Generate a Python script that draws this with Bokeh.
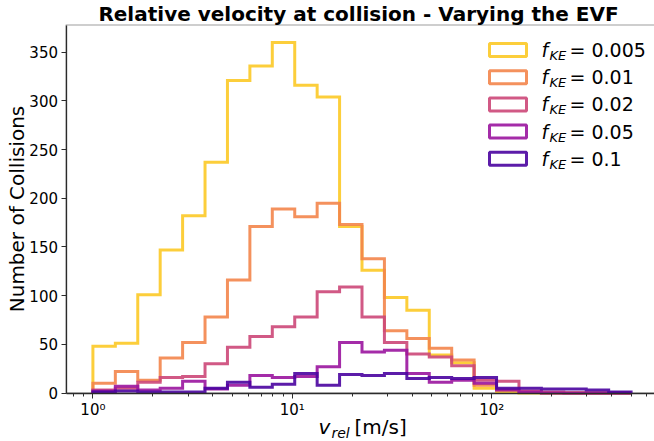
import numpy as np
from bokeh.plotting import figure
from bokeh.models import Range1d, FixedTicker, CustomJSTickFormatter, Label, BoxAnnotation
from bokeh.embed import file_html
from bokeh.resources import INLINE

# Log-spaced velocity bins [m/s]
bin_min, bin_max, n_bins = 1.0, 500.0, 24
edges = np.logspace(np.log10(bin_min), np.log10(bin_max), n_bins + 1)

# Collision counts per bin for each kinetic-energy fraction f_KE
f_ke = ["0.005", "0.01", "0.02", "0.05", "0.1"]
counts_0005 = [48, 51, 101, 147, 182, 237, 321, 336, 360, 316, 304, 171,
               126, 98, 85, 39, 31, 5, 1, 0, 0, 0, 0, 0]
counts_001 = [10, 22, 13, 36, 52, 78, 116, 171, 189, 181, 195, 173,
              138, 64, 56, 46, 34, 8, 3, 1, 0, 0, 0, 0]
counts_002 = [3, 5, 11, 16, 17, 30, 47, 58, 68, 78, 104, 109,
              78, 52, 40, 37, 28, 13, 12, 2, 1, 0, 0, 0]
counts_005 = [2, 7, 3, 5, 12, 4, 8, 18, 16, 17, 27, 52,
              42, 44, 20, 11, 13, 10, 3, 1, 0, 0, 0, 0]
counts_01 = [1, 2, 1, 1, 1, 5, 11, 6, 9, 20, 8, 19,
             18, 20, 15, 16, 15, 16, 5, 5, 4, 4, 3, 1]
series = [counts_0005, counts_001, counts_002, counts_005, counts_01]
colors = ["#fcc926", "#f3854b", "#cc4778", "#9a159f", "#4a03a0"]

x_ticks = [1, 10, 100]
y_ticks = [0, 50, 100, 150, 200, 250, 300, 350]

# Canvas size and the plotting box inside it (pixels from top-left)
W, H = 654, 441
BOX_L, BOX_T, BOX_B = 65.5, 24.5, 392.5
px_per_decade = 199.4

# Axis limits of the plotting box: 5 % log margin each side, counts from 0
log_lo = np.log10(bin_min) - 0.05 * np.log10(bin_max / bin_min)
y_top = max(max(s) for s in series) * 1.05
px_per_count = (BOX_B - BOX_T) / y_top

# The frame fills the whole canvas; axes are pinned to the box edges
x_start = log_lo - BOX_L / px_per_decade
x_end = log_lo + (W - BOX_L) / px_per_decade
y_start = -(H - BOX_B) / px_per_count
y_end = y_top + BOX_T / px_per_count

x_minor = [m * 10.0 ** k for k in (-1, 0, 1, 2) for m in range(2, 10)
           if log_lo <= np.log10(m * 10.0 ** k) <= x_end]

p = figure(width=W, height=H, x_axis_type="log",
           x_range=Range1d(10 ** x_start, 10 ** x_end),
           y_range=Range1d(y_start, y_end),
           output_backend="svg", toolbar_location=None, min_border=0)
p.title.visible = False
p.outline_line_color = None
p.grid.visible = False
p.background_fill_color = "white"
p.border_fill_color = "white"

spine = "#2b2b2b"

# spines of the plotting box (its right side lies past the canvas edge)
p.add_layout(BoxAnnotation(left=BOX_L, right=W + 20, top=H - BOX_T,
                           bottom=H - BOX_B, left_units="screen",
                           right_units="screen", top_units="screen",
                           bottom_units="screen", fill_alpha=0,
                           line_color=spine, line_width=1.3, level="underlay"))


def outline(counts):
    xs, ys = [edges[0]], [0]
    for i, c in enumerate(counts):
        xs += [edges[i], edges[i + 1]]
        ys += [c, c]
    xs.append(edges[-1])
    ys.append(0)
    return xs, ys


for counts, col in zip(series, colors):
    xs, ys = outline(counts)
    p.line(xs, ys, line_color=col, line_width=3, line_alpha=0.9,
           line_join="miter")

for ax in (p.xaxis[0], p.yaxis[0]):
    ax.axis_line_color = spine
    ax.axis_line_width = 1.3
    ax.major_tick_line_color = spine
    ax.minor_tick_line_color = spine
    ax.major_tick_in = 0
    ax.major_tick_out = 5
    ax.minor_tick_in = 0
    ax.minor_tick_out = 3
    ax.major_label_text_font = "DejaVu Sans"
    ax.major_label_text_font_size = "15px"
    ax.major_label_text_color = "black"
    ax.major_label_standoff = 3

xa, ya = p.xaxis[0], p.yaxis[0]
xa.fixed_location = 0
xa.bounds = (10 ** log_lo, 10 ** x_end)
ya.fixed_location = 10 ** log_lo
ya.bounds = (0, y_top)

xa.ticker = FixedTicker(ticks=x_ticks, minor_ticks=x_minor)
xa.formatter = CustomJSTickFormatter(code="""
    const sup = {"-": "\u207b", "0": "\u2070", "1": "\u00b9", "2": "\u00b2", "3": "\u00b3",
                 "4": "\u2074", "5": "\u2075", "6": "\u2076", "7": "\u2077", "8": "\u2078", "9": "\u2079"};
    const e = String(Math.round(Math.log10(tick)));
    return "10" + e.split("").map(c => sup[c]).join("");
""")
ya.ticker = FixedTicker(ticks=y_ticks, minor_ticks=[])


def add_text(px, baseline_py, text, size_px, style="normal", align="left",
             angle=0.0, middle=False):
    # texts are anchored at their vertical middle; convert from a baseline
    py = baseline_py if middle else baseline_py - 0.346 * size_px
    p.add_layout(Label(x=px, y=H - py, x_units="screen", y_units="screen",
                       text=text, text_font="DejaVu Sans",
                       text_font_size=f"{size_px}px", text_font_style=style,
                       text_color="black", text_align=align,
                       text_baseline="middle", angle=angle))


# title and axis labels
add_text(358, 20, "Relative velocity at collision - Varying the EVF", 20,
         style="bold", align="center")
add_text(16, (BOX_T + BOX_B) / 2, "Number of Collisions", 20,
         align="center", angle=np.pi / 2, middle=True)
add_text(318, 433, "v", 20, style="italic")
add_text(331, 437, "rel", 14, style="italic")
add_text(354, 433, "[m/s]", 20)

# legend
row0, row_step = 49.5, 27.2
for i, (lab, col) in enumerate(zip(f_ke, colors)):
    yc = row0 + i * row_step
    p.add_layout(BoxAnnotation(left=489, right=526,
                               top=H - (yc - 6.5), bottom=H - (yc + 6.5),
                               left_units="screen", right_units="screen",
                               top_units="screen", bottom_units="screen",
                               fill_alpha=0, line_color=col, line_width=3,
                               line_alpha=0.9))
    add_text(541, yc + 6.6, "f", 19, style="italic")
    add_text(549, yc + 10, "KE", 13, style="italic")
    add_text(569, yc + 6.6, "= " + lab, 19)

open("out.html", "w").write(file_html(p, INLINE))
